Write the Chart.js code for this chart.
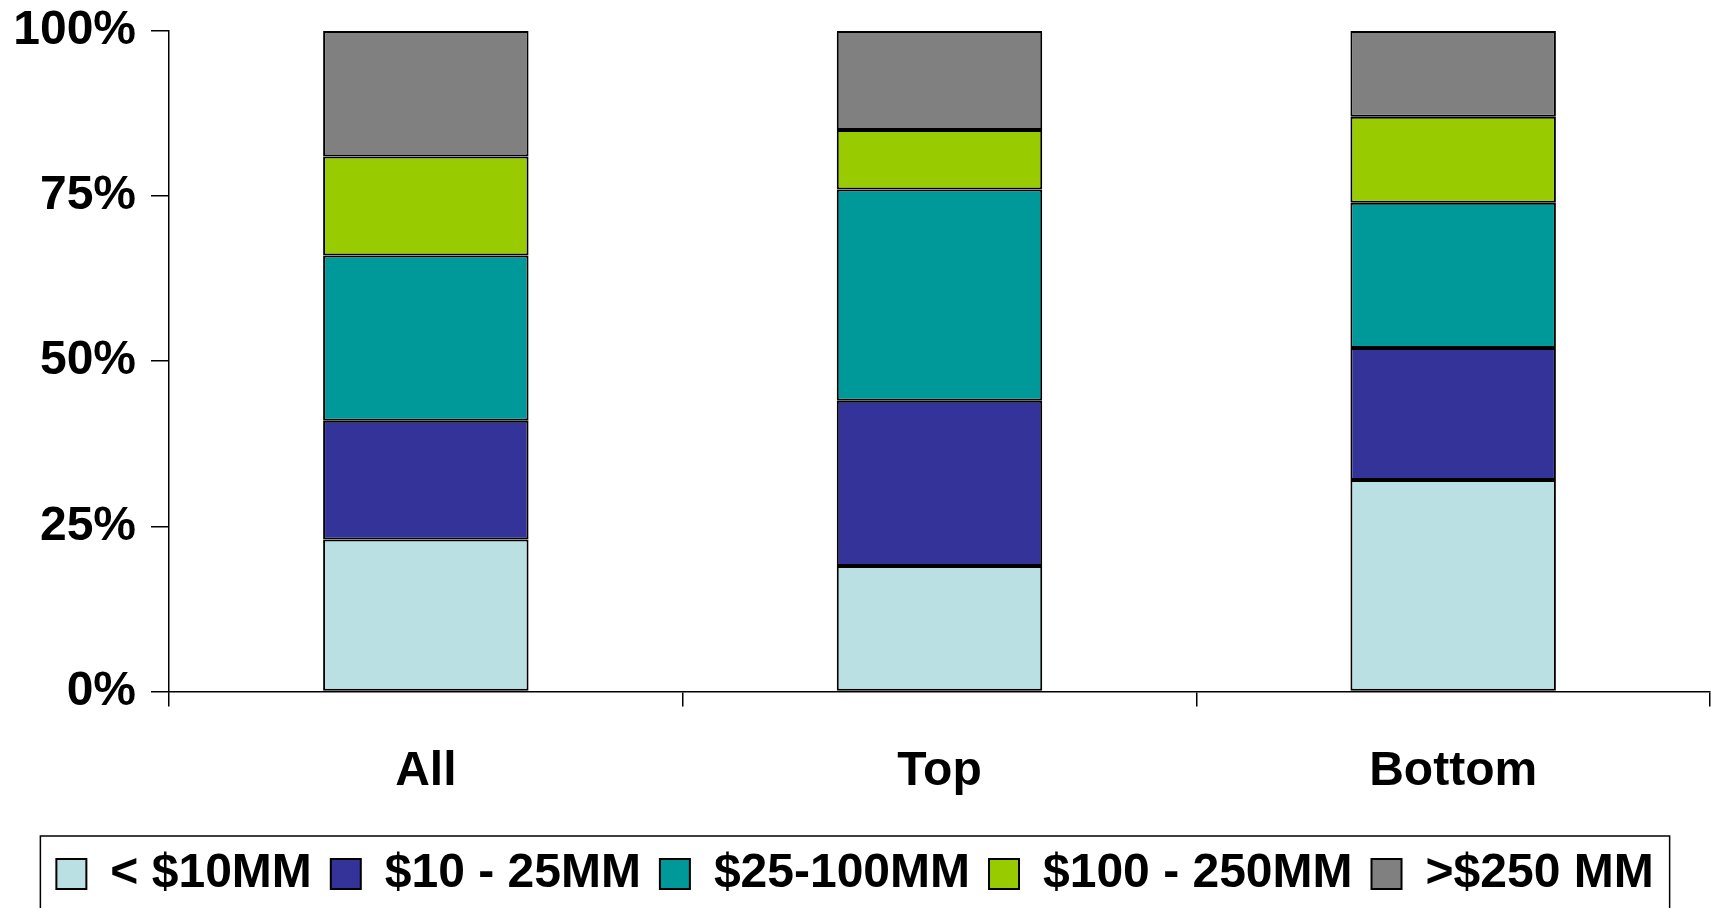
<!DOCTYPE html>
<html>
<head>
<meta charset="utf-8">
<title>Stacked share by size</title>
<script src="https://cdn.jsdelivr.net/npm/chart.js@4"></script>
<style>
  html, body { margin: 0; padding: 0; background: #fff; }
  #wrap { width: 1712px; height: 908px; }
</style>
</head>
<body>
<div id="wrap"><canvas id="sizeChart" width="1712" height="908"></canvas></div>
<script>
const groups = ["All", "Top", "Bottom"];
const sizeBands = ["< $10MM", "$10 - 25MM", "$25-100MM", "$100 - 250MM", ">$250 MM"];
const under10 = [23, 19, 32];
const from10to25 = [18, 25, 20];
const from25to100 = [25, 32, 22];
const from100to250 = [15, 9, 13];
const over250 = [19, 15, 13];
const yTicks = [0, 25, 50, 75, 100];

const bandColors = ['#BBE0E3', '#333399', '#009999', '#99CC00', '#808080'];
const seriesValues = [under10, from10to25, from25to100, from100to250, over250];

const font = { family: "'Liberation Sans', Arial, sans-serif", size: 48, weight: 'bold' };

// frame around the legend row, open at the bottom edge of the canvas
const legendFrame = {
  id: 'legendFrame',
  afterDraw(chart) {
    const lg = chart.legend;
    if (!lg || !lg.legendHitBoxes.length) return;
    const boxes = lg.legendHitBoxes;
    const left = Math.min(...boxes.map(b => b.left)) - 16;
    const right = Math.max(...boxes.map(b => b.left + b.width)) + 16;
    const mid = boxes[0].top + boxes[0].height / 2;
    const ctx = chart.ctx;
    ctx.save();
    ctx.strokeStyle = '#000';
    ctx.lineWidth = 1.5;
    ctx.strokeRect(left, mid - 38, right - left, 200);
    ctx.restore();
  }
};

new Chart(document.getElementById('sizeChart'), {
  type: 'bar',
  data: {
    labels: groups,
    datasets: sizeBands.map((name, i) => ({
      label: name,
      data: seriesValues[i],
      backgroundColor: bandColors[i],
      borderColor: '#000',
      borderWidth: 2,
      borderSkipped: false,
      barPercentage: 0.4,
      categoryPercentage: 1.0
    }))
  },
  options: {
    responsive: false,
    animation: false,
    layout: { padding: { top: 0, right: 2, left: 0, bottom: 0 } },
    plugins: {
      tooltip: { enabled: false },
      legend: {
        position: 'bottom',
        labels: {
          color: '#000',
          font: font,
          boxWidth: 30,
          boxHeight: 30,
          padding: 19
        }
      }
    },
    scales: {
      x: {
        stacked: true,
        afterFit(scale) { scale.height -= 7; },
        border: { display: true, color: '#000', width: 1.5 },
        grid: { drawOnChartArea: false, drawTicks: true, tickLength: 15, color: '#000', lineWidth: 1.5, offset: true },
        ticks: { color: '#000', font: font, padding: 37, maxRotation: 0 }
      },
      y: {
        stacked: true,
        min: 0,
        max: 100,
        afterFit(scale) {
          scale.width = 169;
          scale.paddingTop = 31;
          scale.paddingBottom = 0;
        },
        afterBuildTicks(scale) { scale.ticks = yTicks.map(v => ({ value: v })); },
        border: { display: true, color: '#000', width: 1.5 },
        grid: { drawOnChartArea: false, drawTicks: true, tickLength: 18, color: '#000', lineWidth: 1.5 },
        ticks: { color: '#000', font: font, padding: 15, callback: v => v + '%' }
      }
    }
  },
  plugins: [legendFrame]
});
</script>
</body>
</html>
